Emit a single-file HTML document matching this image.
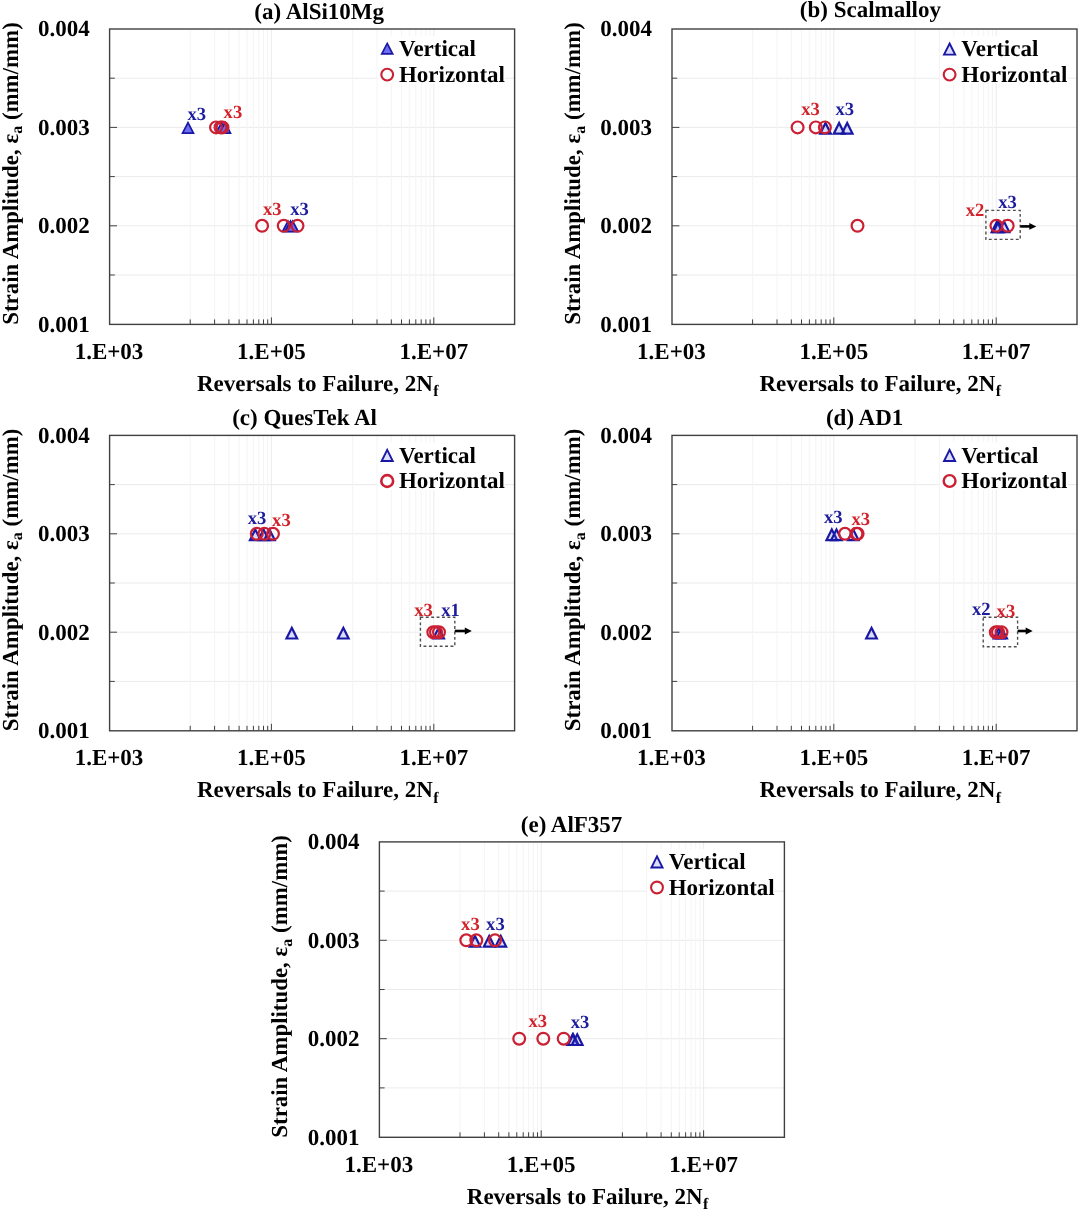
<!DOCTYPE html>
<html><head><meta charset="utf-8"><title>Strain-life data</title>
<style>
html,body{margin:0;padding:0;background:#fff;}
body{width:1080px;height:1211px;overflow:hidden;}
svg{display:block;will-change:transform;text-rendering:geometricPrecision;font-family:"Liberation Serif",serif;font-weight:bold;fill:#000;}
</style></head><body>
<svg width="1080" height="1211" viewBox="0 0 1080 1211">
<rect width="1080" height="1211" fill="#fff"/>
<line x1="109.6" y1="78.2" x2="514.6" y2="78.2" stroke="#ebebeb" stroke-width="1"/>
<line x1="109.6" y1="127.4" x2="514.6" y2="127.4" stroke="#ebebeb" stroke-width="1"/>
<line x1="109.6" y1="176.6" x2="514.6" y2="176.6" stroke="#ebebeb" stroke-width="1"/>
<line x1="109.6" y1="225.8" x2="514.6" y2="225.8" stroke="#ebebeb" stroke-width="1"/>
<line x1="109.6" y1="275.0" x2="514.6" y2="275.0" stroke="#ebebeb" stroke-width="1"/>
<line x1="190.2" y1="29.0" x2="190.2" y2="324.4" stroke="#f4f4f4" stroke-width="1"/>
<line x1="214.6" y1="29.0" x2="214.6" y2="324.4" stroke="#f4f4f4" stroke-width="1"/>
<line x1="228.9" y1="29.0" x2="228.9" y2="324.4" stroke="#f4f4f4" stroke-width="1"/>
<line x1="239.1" y1="29.0" x2="239.1" y2="324.4" stroke="#f4f4f4" stroke-width="1"/>
<line x1="247.0" y1="29.0" x2="247.0" y2="324.4" stroke="#f4f4f4" stroke-width="1"/>
<line x1="253.4" y1="29.0" x2="253.4" y2="324.4" stroke="#f4f4f4" stroke-width="1"/>
<line x1="258.8" y1="29.0" x2="258.8" y2="324.4" stroke="#f4f4f4" stroke-width="1"/>
<line x1="263.5" y1="29.0" x2="263.5" y2="324.4" stroke="#f4f4f4" stroke-width="1"/>
<line x1="267.7" y1="29.0" x2="267.7" y2="324.4" stroke="#f4f4f4" stroke-width="1"/>
<line x1="271.4" y1="29.0" x2="271.4" y2="324.4" stroke="#ebebeb" stroke-width="1"/>
<line x1="352.6" y1="29.0" x2="352.6" y2="324.4" stroke="#f4f4f4" stroke-width="1"/>
<line x1="377.0" y1="29.0" x2="377.0" y2="324.4" stroke="#f4f4f4" stroke-width="1"/>
<line x1="391.3" y1="29.0" x2="391.3" y2="324.4" stroke="#f4f4f4" stroke-width="1"/>
<line x1="401.5" y1="29.0" x2="401.5" y2="324.4" stroke="#f4f4f4" stroke-width="1"/>
<line x1="409.4" y1="29.0" x2="409.4" y2="324.4" stroke="#f4f4f4" stroke-width="1"/>
<line x1="415.8" y1="29.0" x2="415.8" y2="324.4" stroke="#f4f4f4" stroke-width="1"/>
<line x1="421.2" y1="29.0" x2="421.2" y2="324.4" stroke="#f4f4f4" stroke-width="1"/>
<line x1="425.9" y1="29.0" x2="425.9" y2="324.4" stroke="#f4f4f4" stroke-width="1"/>
<line x1="430.1" y1="29.0" x2="430.1" y2="324.4" stroke="#f4f4f4" stroke-width="1"/>
<line x1="433.8" y1="29.0" x2="433.8" y2="324.4" stroke="#ebebeb" stroke-width="1"/>
<line x1="190.2" y1="319.4" x2="190.2" y2="324.4" stroke="#404040" stroke-width="1"/>
<line x1="214.6" y1="319.4" x2="214.6" y2="324.4" stroke="#404040" stroke-width="1"/>
<line x1="228.9" y1="319.4" x2="228.9" y2="324.4" stroke="#404040" stroke-width="1"/>
<line x1="239.1" y1="319.4" x2="239.1" y2="324.4" stroke="#404040" stroke-width="1"/>
<line x1="247.0" y1="319.4" x2="247.0" y2="324.4" stroke="#404040" stroke-width="1"/>
<line x1="253.4" y1="319.4" x2="253.4" y2="324.4" stroke="#404040" stroke-width="1"/>
<line x1="258.8" y1="319.4" x2="258.8" y2="324.4" stroke="#404040" stroke-width="1"/>
<line x1="263.5" y1="319.4" x2="263.5" y2="324.4" stroke="#404040" stroke-width="1"/>
<line x1="267.7" y1="319.4" x2="267.7" y2="324.4" stroke="#404040" stroke-width="1"/>
<line x1="271.4" y1="317.4" x2="271.4" y2="324.4" stroke="#404040" stroke-width="1"/>
<line x1="352.6" y1="319.4" x2="352.6" y2="324.4" stroke="#404040" stroke-width="1"/>
<line x1="377.0" y1="319.4" x2="377.0" y2="324.4" stroke="#404040" stroke-width="1"/>
<line x1="391.3" y1="319.4" x2="391.3" y2="324.4" stroke="#404040" stroke-width="1"/>
<line x1="401.5" y1="319.4" x2="401.5" y2="324.4" stroke="#404040" stroke-width="1"/>
<line x1="409.4" y1="319.4" x2="409.4" y2="324.4" stroke="#404040" stroke-width="1"/>
<line x1="415.8" y1="319.4" x2="415.8" y2="324.4" stroke="#404040" stroke-width="1"/>
<line x1="421.2" y1="319.4" x2="421.2" y2="324.4" stroke="#404040" stroke-width="1"/>
<line x1="425.9" y1="319.4" x2="425.9" y2="324.4" stroke="#404040" stroke-width="1"/>
<line x1="430.1" y1="319.4" x2="430.1" y2="324.4" stroke="#404040" stroke-width="1"/>
<line x1="433.8" y1="317.4" x2="433.8" y2="324.4" stroke="#404040" stroke-width="1"/>
<line x1="109.6" y1="78.2" x2="114.8" y2="78.2" stroke="#404040" stroke-width="1"/>
<line x1="109.6" y1="127.4" x2="117.0" y2="127.4" stroke="#404040" stroke-width="1"/>
<line x1="109.6" y1="176.6" x2="114.8" y2="176.6" stroke="#404040" stroke-width="1"/>
<line x1="109.6" y1="225.8" x2="117.0" y2="225.8" stroke="#404040" stroke-width="1"/>
<line x1="109.6" y1="275.0" x2="114.8" y2="275.0" stroke="#404040" stroke-width="1"/>
<rect x="109.6" y="29.0" width="405.0" height="295.4" fill="none" stroke="#404040" stroke-width="1.4"/>
<text x="89.7" y="36.4" font-size="23" text-anchor="end">0.004</text>
<text x="89.7" y="134.8" font-size="23" text-anchor="end">0.003</text>
<text x="89.7" y="233.2" font-size="23" text-anchor="end">0.002</text>
<text x="89.7" y="331.6" font-size="23" text-anchor="end">0.001</text>
<text x="109.0" y="358.6" font-size="23" text-anchor="middle">1.E+03</text>
<text x="271.4" y="358.6" font-size="23" text-anchor="middle">1.E+05</text>
<text x="433.8" y="358.6" font-size="23" text-anchor="middle">1.E+07</text>
<text x="317.8" y="390.7" font-size="23" text-anchor="middle">Reversals to Failure, 2N<tspan font-size="16" dy="5.4" dx="0.4">f</tspan></text>
<text transform="translate(17.6 173.5) rotate(-90)" font-size="22.9" text-anchor="middle">Strain Amplitude, ε<tspan font-size="16" dy="4.6">a</tspan><tspan dy="-4.6"> (mm/mm)</tspan></text>
<text x="319.2" y="18.9" font-size="23" text-anchor="middle">(a) AlSi10Mg</text>
<rect x="377.6" y="36.0" width="127.5" height="47.5" fill="#fff"/>
<path d="M387.20 43.48L392.65 53.90L381.75 53.90Z" fill="#6e6ef2" stroke="#1818a4" stroke-width="1.7" stroke-linejoin="miter" stroke-miterlimit="10"/>
<circle cx="387.2" cy="74.6" r="5.9" fill="none" stroke="#cb2034" stroke-width="2.1"/>
<text x="398.9" y="56.2" font-size="23">Vertical</text>
<text x="398.9" y="82.0" font-size="23">Horizontal</text>
<path d="M188.00 122.68L193.45 133.10L182.55 133.10Z" fill="#6e6ef2" stroke="#1818a4" stroke-width="1.7" stroke-linejoin="miter" stroke-miterlimit="10"/>
<path d="M221.50 122.68L226.95 133.10L216.05 133.10Z" fill="#6e6ef2" stroke="#1818a4" stroke-width="1.7" stroke-linejoin="miter" stroke-miterlimit="10"/>
<path d="M225.00 122.68L230.45 133.10L219.55 133.10Z" fill="#6e6ef2" stroke="#1818a4" stroke-width="1.7" stroke-linejoin="miter" stroke-miterlimit="10"/>
<path d="M288.00 221.08L293.45 231.50L282.55 231.50Z" fill="#6e6ef2" stroke="#1818a4" stroke-width="1.7" stroke-linejoin="miter" stroke-miterlimit="10"/>
<path d="M290.50 221.08L295.95 231.50L285.05 231.50Z" fill="#6e6ef2" stroke="#1818a4" stroke-width="1.7" stroke-linejoin="miter" stroke-miterlimit="10"/>
<path d="M292.70 221.08L298.15 231.50L287.25 231.50Z" fill="#6e6ef2" stroke="#1818a4" stroke-width="1.7" stroke-linejoin="miter" stroke-miterlimit="10"/>
<circle cx="216.0" cy="127.4" r="5.9" fill="none" stroke="#cb2034" stroke-width="2.2"/>
<circle cx="220.5" cy="127.4" r="5.9" fill="none" stroke="#cb2034" stroke-width="2.2"/>
<circle cx="222.5" cy="127.4" r="5.9" fill="none" stroke="#cb2034" stroke-width="2.2"/>
<circle cx="262.1" cy="225.8" r="5.9" fill="none" stroke="#cb2034" stroke-width="2.2"/>
<circle cx="283.7" cy="225.8" r="5.9" fill="none" stroke="#cb2034" stroke-width="2.2"/>
<circle cx="297.5" cy="225.8" r="5.9" fill="none" stroke="#cb2034" stroke-width="2.2"/>
<text x="196.8" y="120.0" font-size="18.6" fill="#1c1c9c" text-anchor="middle">x3</text>
<text x="232.9" y="117.6" font-size="18.6" fill="#d2232a" text-anchor="middle">x3</text>
<text x="272.2" y="215.0" font-size="18.6" fill="#d2232a" text-anchor="middle">x3</text>
<text x="299.6" y="215.0" font-size="18.6" fill="#1c1c9c" text-anchor="middle">x3</text>
<line x1="672.0" y1="78.2" x2="1077.0" y2="78.2" stroke="#ebebeb" stroke-width="1"/>
<line x1="672.0" y1="127.4" x2="1077.0" y2="127.4" stroke="#ebebeb" stroke-width="1"/>
<line x1="672.0" y1="176.6" x2="1077.0" y2="176.6" stroke="#ebebeb" stroke-width="1"/>
<line x1="672.0" y1="225.8" x2="1077.0" y2="225.8" stroke="#ebebeb" stroke-width="1"/>
<line x1="672.0" y1="275.0" x2="1077.0" y2="275.0" stroke="#ebebeb" stroke-width="1"/>
<line x1="752.6" y1="29.0" x2="752.6" y2="324.4" stroke="#f4f4f4" stroke-width="1"/>
<line x1="777.0" y1="29.0" x2="777.0" y2="324.4" stroke="#f4f4f4" stroke-width="1"/>
<line x1="791.3" y1="29.0" x2="791.3" y2="324.4" stroke="#f4f4f4" stroke-width="1"/>
<line x1="801.5" y1="29.0" x2="801.5" y2="324.4" stroke="#f4f4f4" stroke-width="1"/>
<line x1="809.4" y1="29.0" x2="809.4" y2="324.4" stroke="#f4f4f4" stroke-width="1"/>
<line x1="815.8" y1="29.0" x2="815.8" y2="324.4" stroke="#f4f4f4" stroke-width="1"/>
<line x1="821.2" y1="29.0" x2="821.2" y2="324.4" stroke="#f4f4f4" stroke-width="1"/>
<line x1="825.9" y1="29.0" x2="825.9" y2="324.4" stroke="#f4f4f4" stroke-width="1"/>
<line x1="830.1" y1="29.0" x2="830.1" y2="324.4" stroke="#f4f4f4" stroke-width="1"/>
<line x1="833.8" y1="29.0" x2="833.8" y2="324.4" stroke="#ebebeb" stroke-width="1"/>
<line x1="915.0" y1="29.0" x2="915.0" y2="324.4" stroke="#f4f4f4" stroke-width="1"/>
<line x1="939.4" y1="29.0" x2="939.4" y2="324.4" stroke="#f4f4f4" stroke-width="1"/>
<line x1="953.7" y1="29.0" x2="953.7" y2="324.4" stroke="#f4f4f4" stroke-width="1"/>
<line x1="963.9" y1="29.0" x2="963.9" y2="324.4" stroke="#f4f4f4" stroke-width="1"/>
<line x1="971.8" y1="29.0" x2="971.8" y2="324.4" stroke="#f4f4f4" stroke-width="1"/>
<line x1="978.2" y1="29.0" x2="978.2" y2="324.4" stroke="#f4f4f4" stroke-width="1"/>
<line x1="983.6" y1="29.0" x2="983.6" y2="324.4" stroke="#f4f4f4" stroke-width="1"/>
<line x1="988.3" y1="29.0" x2="988.3" y2="324.4" stroke="#f4f4f4" stroke-width="1"/>
<line x1="992.5" y1="29.0" x2="992.5" y2="324.4" stroke="#f4f4f4" stroke-width="1"/>
<line x1="996.2" y1="29.0" x2="996.2" y2="324.4" stroke="#ebebeb" stroke-width="1"/>
<line x1="752.6" y1="319.4" x2="752.6" y2="324.4" stroke="#404040" stroke-width="1"/>
<line x1="777.0" y1="319.4" x2="777.0" y2="324.4" stroke="#404040" stroke-width="1"/>
<line x1="791.3" y1="319.4" x2="791.3" y2="324.4" stroke="#404040" stroke-width="1"/>
<line x1="801.5" y1="319.4" x2="801.5" y2="324.4" stroke="#404040" stroke-width="1"/>
<line x1="809.4" y1="319.4" x2="809.4" y2="324.4" stroke="#404040" stroke-width="1"/>
<line x1="815.8" y1="319.4" x2="815.8" y2="324.4" stroke="#404040" stroke-width="1"/>
<line x1="821.2" y1="319.4" x2="821.2" y2="324.4" stroke="#404040" stroke-width="1"/>
<line x1="825.9" y1="319.4" x2="825.9" y2="324.4" stroke="#404040" stroke-width="1"/>
<line x1="830.1" y1="319.4" x2="830.1" y2="324.4" stroke="#404040" stroke-width="1"/>
<line x1="833.8" y1="317.4" x2="833.8" y2="324.4" stroke="#404040" stroke-width="1"/>
<line x1="915.0" y1="319.4" x2="915.0" y2="324.4" stroke="#404040" stroke-width="1"/>
<line x1="939.4" y1="319.4" x2="939.4" y2="324.4" stroke="#404040" stroke-width="1"/>
<line x1="953.7" y1="319.4" x2="953.7" y2="324.4" stroke="#404040" stroke-width="1"/>
<line x1="963.9" y1="319.4" x2="963.9" y2="324.4" stroke="#404040" stroke-width="1"/>
<line x1="971.8" y1="319.4" x2="971.8" y2="324.4" stroke="#404040" stroke-width="1"/>
<line x1="978.2" y1="319.4" x2="978.2" y2="324.4" stroke="#404040" stroke-width="1"/>
<line x1="983.6" y1="319.4" x2="983.6" y2="324.4" stroke="#404040" stroke-width="1"/>
<line x1="988.3" y1="319.4" x2="988.3" y2="324.4" stroke="#404040" stroke-width="1"/>
<line x1="992.5" y1="319.4" x2="992.5" y2="324.4" stroke="#404040" stroke-width="1"/>
<line x1="996.2" y1="317.4" x2="996.2" y2="324.4" stroke="#404040" stroke-width="1"/>
<line x1="672.0" y1="78.2" x2="677.2" y2="78.2" stroke="#404040" stroke-width="1"/>
<line x1="672.0" y1="127.4" x2="679.4" y2="127.4" stroke="#404040" stroke-width="1"/>
<line x1="672.0" y1="176.6" x2="677.2" y2="176.6" stroke="#404040" stroke-width="1"/>
<line x1="672.0" y1="225.8" x2="679.4" y2="225.8" stroke="#404040" stroke-width="1"/>
<line x1="672.0" y1="275.0" x2="677.2" y2="275.0" stroke="#404040" stroke-width="1"/>
<rect x="672.0" y="29.0" width="405.0" height="295.4" fill="none" stroke="#404040" stroke-width="1.4"/>
<text x="652.1" y="36.4" font-size="23" text-anchor="end">0.004</text>
<text x="652.1" y="134.8" font-size="23" text-anchor="end">0.003</text>
<text x="652.1" y="233.2" font-size="23" text-anchor="end">0.002</text>
<text x="652.1" y="331.6" font-size="23" text-anchor="end">0.001</text>
<text x="671.4" y="358.6" font-size="23" text-anchor="middle">1.E+03</text>
<text x="833.8" y="358.6" font-size="23" text-anchor="middle">1.E+05</text>
<text x="996.2" y="358.6" font-size="23" text-anchor="middle">1.E+07</text>
<text x="880.2" y="390.7" font-size="23" text-anchor="middle">Reversals to Failure, 2N<tspan font-size="16" dy="5.4" dx="0.4">f</tspan></text>
<text transform="translate(580.0 173.5) rotate(-90)" font-size="22.9" text-anchor="middle">Strain Amplitude, ε<tspan font-size="16" dy="4.6">a</tspan><tspan dy="-4.6"> (mm/mm)</tspan></text>
<text x="870.4" y="17.3" font-size="23" text-anchor="middle">(b) Scalmalloy</text>
<rect x="940.0" y="36.0" width="127.5" height="47.5" fill="#fff"/>
<path d="M949.60 43.52L955.16 54.65L944.04 54.65Z" fill="rgba(80,80,245,0.2)" stroke="#1818a4" stroke-width="1.9" stroke-linejoin="miter" stroke-miterlimit="10"/>
<circle cx="949.6" cy="74.6" r="5.9" fill="none" stroke="#cb2034" stroke-width="2.1"/>
<text x="961.3" y="56.2" font-size="23">Vertical</text>
<text x="961.3" y="82.0" font-size="23">Horizontal</text>
<rect x="985.9" y="210.4" width="34.3" height="29.0" fill="none" stroke="#505050" stroke-width="1.4" stroke-dasharray="2.9 2.5"/>
<line x1="1020.4" y1="226.4" x2="1031.3" y2="226.4" stroke="#000" stroke-width="2.6"/>
<path d="M1036.3 226.4L1029.3 223.0L1029.3 229.8Z" fill="#000"/>
<path d="M825.50 123.06L830.82 133.70L820.18 133.70Z" fill="rgba(80,80,245,0.2)" stroke="#1818a4" stroke-width="2.2" stroke-linejoin="miter" stroke-miterlimit="10"/>
<path d="M839.10 123.06L844.42 133.70L833.78 133.70Z" fill="rgba(80,80,245,0.2)" stroke="#1818a4" stroke-width="2.2" stroke-linejoin="miter" stroke-miterlimit="10"/>
<path d="M847.20 123.06L852.52 133.70L841.88 133.70Z" fill="rgba(80,80,245,0.2)" stroke="#1818a4" stroke-width="2.2" stroke-linejoin="miter" stroke-miterlimit="10"/>
<path d="M997.00 221.46L1002.32 232.10L991.68 232.10Z" fill="rgba(80,80,245,0.2)" stroke="#1818a4" stroke-width="2.2" stroke-linejoin="miter" stroke-miterlimit="10"/>
<path d="M998.60 221.46L1003.92 232.10L993.28 232.10Z" fill="rgba(80,80,245,0.2)" stroke="#1818a4" stroke-width="2.2" stroke-linejoin="miter" stroke-miterlimit="10"/>
<path d="M1004.00 221.46L1009.32 232.10L998.68 232.10Z" fill="rgba(80,80,245,0.2)" stroke="#1818a4" stroke-width="2.2" stroke-linejoin="miter" stroke-miterlimit="10"/>
<circle cx="797.6" cy="127.4" r="5.9" fill="none" stroke="#cb2034" stroke-width="2.2"/>
<circle cx="815.8" cy="127.4" r="5.9" fill="none" stroke="#cb2034" stroke-width="2.2"/>
<circle cx="824.9" cy="127.4" r="5.9" fill="none" stroke="#cb2034" stroke-width="2.2"/>
<circle cx="857.5" cy="225.8" r="5.9" fill="none" stroke="#cb2034" stroke-width="2.2"/>
<circle cx="996.4" cy="225.8" r="5.9" fill="none" stroke="#cb2034" stroke-width="2.2"/>
<circle cx="1007.7" cy="225.8" r="5.9" fill="none" stroke="#cb2034" stroke-width="2.2"/>
<text x="810.6" y="115.3" font-size="18.6" fill="#d2232a" text-anchor="middle">x3</text>
<text x="844.8" y="115.3" font-size="18.6" fill="#1c1c9c" text-anchor="middle">x3</text>
<text x="975.0" y="216.0" font-size="18.6" fill="#d2232a" text-anchor="middle">x2</text>
<text x="1007.5" y="207.9" font-size="18.6" fill="#1c1c9c" text-anchor="middle">x3</text>
<line x1="109.6" y1="484.6" x2="514.6" y2="484.6" stroke="#ebebeb" stroke-width="1"/>
<line x1="109.6" y1="533.8" x2="514.6" y2="533.8" stroke="#ebebeb" stroke-width="1"/>
<line x1="109.6" y1="583.0" x2="514.6" y2="583.0" stroke="#ebebeb" stroke-width="1"/>
<line x1="109.6" y1="632.2" x2="514.6" y2="632.2" stroke="#ebebeb" stroke-width="1"/>
<line x1="109.6" y1="681.4" x2="514.6" y2="681.4" stroke="#ebebeb" stroke-width="1"/>
<line x1="190.2" y1="435.4" x2="190.2" y2="730.8" stroke="#f4f4f4" stroke-width="1"/>
<line x1="214.6" y1="435.4" x2="214.6" y2="730.8" stroke="#f4f4f4" stroke-width="1"/>
<line x1="228.9" y1="435.4" x2="228.9" y2="730.8" stroke="#f4f4f4" stroke-width="1"/>
<line x1="239.1" y1="435.4" x2="239.1" y2="730.8" stroke="#f4f4f4" stroke-width="1"/>
<line x1="247.0" y1="435.4" x2="247.0" y2="730.8" stroke="#f4f4f4" stroke-width="1"/>
<line x1="253.4" y1="435.4" x2="253.4" y2="730.8" stroke="#f4f4f4" stroke-width="1"/>
<line x1="258.8" y1="435.4" x2="258.8" y2="730.8" stroke="#f4f4f4" stroke-width="1"/>
<line x1="263.5" y1="435.4" x2="263.5" y2="730.8" stroke="#f4f4f4" stroke-width="1"/>
<line x1="267.7" y1="435.4" x2="267.7" y2="730.8" stroke="#f4f4f4" stroke-width="1"/>
<line x1="271.4" y1="435.4" x2="271.4" y2="730.8" stroke="#ebebeb" stroke-width="1"/>
<line x1="352.6" y1="435.4" x2="352.6" y2="730.8" stroke="#f4f4f4" stroke-width="1"/>
<line x1="377.0" y1="435.4" x2="377.0" y2="730.8" stroke="#f4f4f4" stroke-width="1"/>
<line x1="391.3" y1="435.4" x2="391.3" y2="730.8" stroke="#f4f4f4" stroke-width="1"/>
<line x1="401.5" y1="435.4" x2="401.5" y2="730.8" stroke="#f4f4f4" stroke-width="1"/>
<line x1="409.4" y1="435.4" x2="409.4" y2="730.8" stroke="#f4f4f4" stroke-width="1"/>
<line x1="415.8" y1="435.4" x2="415.8" y2="730.8" stroke="#f4f4f4" stroke-width="1"/>
<line x1="421.2" y1="435.4" x2="421.2" y2="730.8" stroke="#f4f4f4" stroke-width="1"/>
<line x1="425.9" y1="435.4" x2="425.9" y2="730.8" stroke="#f4f4f4" stroke-width="1"/>
<line x1="430.1" y1="435.4" x2="430.1" y2="730.8" stroke="#f4f4f4" stroke-width="1"/>
<line x1="433.8" y1="435.4" x2="433.8" y2="730.8" stroke="#ebebeb" stroke-width="1"/>
<line x1="190.2" y1="725.8" x2="190.2" y2="730.8" stroke="#404040" stroke-width="1"/>
<line x1="214.6" y1="725.8" x2="214.6" y2="730.8" stroke="#404040" stroke-width="1"/>
<line x1="228.9" y1="725.8" x2="228.9" y2="730.8" stroke="#404040" stroke-width="1"/>
<line x1="239.1" y1="725.8" x2="239.1" y2="730.8" stroke="#404040" stroke-width="1"/>
<line x1="247.0" y1="725.8" x2="247.0" y2="730.8" stroke="#404040" stroke-width="1"/>
<line x1="253.4" y1="725.8" x2="253.4" y2="730.8" stroke="#404040" stroke-width="1"/>
<line x1="258.8" y1="725.8" x2="258.8" y2="730.8" stroke="#404040" stroke-width="1"/>
<line x1="263.5" y1="725.8" x2="263.5" y2="730.8" stroke="#404040" stroke-width="1"/>
<line x1="267.7" y1="725.8" x2="267.7" y2="730.8" stroke="#404040" stroke-width="1"/>
<line x1="271.4" y1="723.8" x2="271.4" y2="730.8" stroke="#404040" stroke-width="1"/>
<line x1="352.6" y1="725.8" x2="352.6" y2="730.8" stroke="#404040" stroke-width="1"/>
<line x1="377.0" y1="725.8" x2="377.0" y2="730.8" stroke="#404040" stroke-width="1"/>
<line x1="391.3" y1="725.8" x2="391.3" y2="730.8" stroke="#404040" stroke-width="1"/>
<line x1="401.5" y1="725.8" x2="401.5" y2="730.8" stroke="#404040" stroke-width="1"/>
<line x1="409.4" y1="725.8" x2="409.4" y2="730.8" stroke="#404040" stroke-width="1"/>
<line x1="415.8" y1="725.8" x2="415.8" y2="730.8" stroke="#404040" stroke-width="1"/>
<line x1="421.2" y1="725.8" x2="421.2" y2="730.8" stroke="#404040" stroke-width="1"/>
<line x1="425.9" y1="725.8" x2="425.9" y2="730.8" stroke="#404040" stroke-width="1"/>
<line x1="430.1" y1="725.8" x2="430.1" y2="730.8" stroke="#404040" stroke-width="1"/>
<line x1="433.8" y1="723.8" x2="433.8" y2="730.8" stroke="#404040" stroke-width="1"/>
<line x1="109.6" y1="484.6" x2="114.8" y2="484.6" stroke="#404040" stroke-width="1"/>
<line x1="109.6" y1="533.8" x2="117.0" y2="533.8" stroke="#404040" stroke-width="1"/>
<line x1="109.6" y1="583.0" x2="114.8" y2="583.0" stroke="#404040" stroke-width="1"/>
<line x1="109.6" y1="632.2" x2="117.0" y2="632.2" stroke="#404040" stroke-width="1"/>
<line x1="109.6" y1="681.4" x2="114.8" y2="681.4" stroke="#404040" stroke-width="1"/>
<rect x="109.6" y="435.4" width="405.0" height="295.4" fill="none" stroke="#404040" stroke-width="1.4"/>
<text x="89.7" y="442.8" font-size="23" text-anchor="end">0.004</text>
<text x="89.7" y="541.2" font-size="23" text-anchor="end">0.003</text>
<text x="89.7" y="639.6" font-size="23" text-anchor="end">0.002</text>
<text x="89.7" y="738.0" font-size="23" text-anchor="end">0.001</text>
<text x="109.0" y="765.0" font-size="23" text-anchor="middle">1.E+03</text>
<text x="271.4" y="765.0" font-size="23" text-anchor="middle">1.E+05</text>
<text x="433.8" y="765.0" font-size="23" text-anchor="middle">1.E+07</text>
<text x="317.8" y="797.1" font-size="23" text-anchor="middle">Reversals to Failure, 2N<tspan font-size="16" dy="5.4" dx="0.4">f</tspan></text>
<text transform="translate(17.6 579.9) rotate(-90)" font-size="22.9" text-anchor="middle">Strain Amplitude, ε<tspan font-size="16" dy="4.6">a</tspan><tspan dy="-4.6"> (mm/mm)</tspan></text>
<text x="304.6" y="424.8" font-size="23" text-anchor="middle">(c) QuesTek Al</text>
<rect x="377.6" y="442.4" width="127.5" height="47.5" fill="#fff"/>
<path d="M387.20 449.92L392.76 461.05L381.64 461.05Z" fill="rgba(80,80,245,0.2)" stroke="#1818a4" stroke-width="1.9" stroke-linejoin="miter" stroke-miterlimit="10"/>
<circle cx="387.2" cy="481.0" r="5.9" fill="none" stroke="#cb2034" stroke-width="2.6"/>
<text x="398.9" y="462.6" font-size="23">Vertical</text>
<text x="398.9" y="488.4" font-size="23">Horizontal</text>
<rect x="420.4" y="617.3" width="34.4" height="29.0" fill="none" stroke="#505050" stroke-width="1.4" stroke-dasharray="2.9 2.5"/>
<line x1="454.8" y1="631.0" x2="466.8" y2="631.0" stroke="#000" stroke-width="2.6"/>
<path d="M471.8 631.0L464.8 627.6L464.8 634.4Z" fill="#000"/>
<path d="M255.30 529.46L260.62 540.10L249.98 540.10Z" fill="rgba(80,80,245,0.2)" stroke="#1818a4" stroke-width="2.2" stroke-linejoin="miter" stroke-miterlimit="10"/>
<path d="M263.50 529.46L268.82 540.10L258.18 540.10Z" fill="rgba(80,80,245,0.2)" stroke="#1818a4" stroke-width="2.2" stroke-linejoin="miter" stroke-miterlimit="10"/>
<path d="M269.50 529.46L274.82 540.10L264.18 540.10Z" fill="rgba(80,80,245,0.2)" stroke="#1818a4" stroke-width="2.2" stroke-linejoin="miter" stroke-miterlimit="10"/>
<path d="M291.80 627.86L297.12 638.50L286.48 638.50Z" fill="rgba(80,80,245,0.2)" stroke="#1818a4" stroke-width="2.2" stroke-linejoin="miter" stroke-miterlimit="10"/>
<path d="M343.30 627.86L348.62 638.50L337.98 638.50Z" fill="rgba(80,80,245,0.2)" stroke="#1818a4" stroke-width="2.2" stroke-linejoin="miter" stroke-miterlimit="10"/>
<path d="M438.60 627.86L443.92 638.50L433.28 638.50Z" fill="rgba(80,80,245,0.2)" stroke="#1818a4" stroke-width="2.2" stroke-linejoin="miter" stroke-miterlimit="10"/>
<circle cx="256.8" cy="533.8" r="5.9" fill="none" stroke="#cb2034" stroke-width="2.2"/>
<circle cx="264.4" cy="533.8" r="5.9" fill="none" stroke="#cb2034" stroke-width="2.2"/>
<circle cx="273.0" cy="533.8" r="5.9" fill="none" stroke="#cb2034" stroke-width="2.2"/>
<circle cx="433.3" cy="632.2" r="5.9" fill="none" stroke="#cb2034" stroke-width="2.2"/>
<circle cx="436.0" cy="632.2" r="5.9" fill="none" stroke="#cb2034" stroke-width="2.2"/>
<circle cx="439.0" cy="632.2" r="5.9" fill="none" stroke="#cb2034" stroke-width="2.2"/>
<text x="257.1" y="524.4" font-size="18.6" fill="#1c1c9c" text-anchor="middle">x3</text>
<text x="281.4" y="525.6" font-size="18.6" fill="#d2232a" text-anchor="middle">x3</text>
<text x="423.6" y="615.5" font-size="18.6" fill="#d2232a" text-anchor="middle">x3</text>
<text x="450.5" y="615.5" font-size="18.6" fill="#1c1c9c" text-anchor="middle">x1</text>
<line x1="672.0" y1="484.6" x2="1077.0" y2="484.6" stroke="#ebebeb" stroke-width="1"/>
<line x1="672.0" y1="533.8" x2="1077.0" y2="533.8" stroke="#ebebeb" stroke-width="1"/>
<line x1="672.0" y1="583.0" x2="1077.0" y2="583.0" stroke="#ebebeb" stroke-width="1"/>
<line x1="672.0" y1="632.2" x2="1077.0" y2="632.2" stroke="#ebebeb" stroke-width="1"/>
<line x1="672.0" y1="681.4" x2="1077.0" y2="681.4" stroke="#ebebeb" stroke-width="1"/>
<line x1="752.6" y1="435.4" x2="752.6" y2="730.8" stroke="#f4f4f4" stroke-width="1"/>
<line x1="777.0" y1="435.4" x2="777.0" y2="730.8" stroke="#f4f4f4" stroke-width="1"/>
<line x1="791.3" y1="435.4" x2="791.3" y2="730.8" stroke="#f4f4f4" stroke-width="1"/>
<line x1="801.5" y1="435.4" x2="801.5" y2="730.8" stroke="#f4f4f4" stroke-width="1"/>
<line x1="809.4" y1="435.4" x2="809.4" y2="730.8" stroke="#f4f4f4" stroke-width="1"/>
<line x1="815.8" y1="435.4" x2="815.8" y2="730.8" stroke="#f4f4f4" stroke-width="1"/>
<line x1="821.2" y1="435.4" x2="821.2" y2="730.8" stroke="#f4f4f4" stroke-width="1"/>
<line x1="825.9" y1="435.4" x2="825.9" y2="730.8" stroke="#f4f4f4" stroke-width="1"/>
<line x1="830.1" y1="435.4" x2="830.1" y2="730.8" stroke="#f4f4f4" stroke-width="1"/>
<line x1="833.8" y1="435.4" x2="833.8" y2="730.8" stroke="#ebebeb" stroke-width="1"/>
<line x1="915.0" y1="435.4" x2="915.0" y2="730.8" stroke="#f4f4f4" stroke-width="1"/>
<line x1="939.4" y1="435.4" x2="939.4" y2="730.8" stroke="#f4f4f4" stroke-width="1"/>
<line x1="953.7" y1="435.4" x2="953.7" y2="730.8" stroke="#f4f4f4" stroke-width="1"/>
<line x1="963.9" y1="435.4" x2="963.9" y2="730.8" stroke="#f4f4f4" stroke-width="1"/>
<line x1="971.8" y1="435.4" x2="971.8" y2="730.8" stroke="#f4f4f4" stroke-width="1"/>
<line x1="978.2" y1="435.4" x2="978.2" y2="730.8" stroke="#f4f4f4" stroke-width="1"/>
<line x1="983.6" y1="435.4" x2="983.6" y2="730.8" stroke="#f4f4f4" stroke-width="1"/>
<line x1="988.3" y1="435.4" x2="988.3" y2="730.8" stroke="#f4f4f4" stroke-width="1"/>
<line x1="992.5" y1="435.4" x2="992.5" y2="730.8" stroke="#f4f4f4" stroke-width="1"/>
<line x1="996.2" y1="435.4" x2="996.2" y2="730.8" stroke="#ebebeb" stroke-width="1"/>
<line x1="752.6" y1="725.8" x2="752.6" y2="730.8" stroke="#404040" stroke-width="1"/>
<line x1="777.0" y1="725.8" x2="777.0" y2="730.8" stroke="#404040" stroke-width="1"/>
<line x1="791.3" y1="725.8" x2="791.3" y2="730.8" stroke="#404040" stroke-width="1"/>
<line x1="801.5" y1="725.8" x2="801.5" y2="730.8" stroke="#404040" stroke-width="1"/>
<line x1="809.4" y1="725.8" x2="809.4" y2="730.8" stroke="#404040" stroke-width="1"/>
<line x1="815.8" y1="725.8" x2="815.8" y2="730.8" stroke="#404040" stroke-width="1"/>
<line x1="821.2" y1="725.8" x2="821.2" y2="730.8" stroke="#404040" stroke-width="1"/>
<line x1="825.9" y1="725.8" x2="825.9" y2="730.8" stroke="#404040" stroke-width="1"/>
<line x1="830.1" y1="725.8" x2="830.1" y2="730.8" stroke="#404040" stroke-width="1"/>
<line x1="833.8" y1="723.8" x2="833.8" y2="730.8" stroke="#404040" stroke-width="1"/>
<line x1="915.0" y1="725.8" x2="915.0" y2="730.8" stroke="#404040" stroke-width="1"/>
<line x1="939.4" y1="725.8" x2="939.4" y2="730.8" stroke="#404040" stroke-width="1"/>
<line x1="953.7" y1="725.8" x2="953.7" y2="730.8" stroke="#404040" stroke-width="1"/>
<line x1="963.9" y1="725.8" x2="963.9" y2="730.8" stroke="#404040" stroke-width="1"/>
<line x1="971.8" y1="725.8" x2="971.8" y2="730.8" stroke="#404040" stroke-width="1"/>
<line x1="978.2" y1="725.8" x2="978.2" y2="730.8" stroke="#404040" stroke-width="1"/>
<line x1="983.6" y1="725.8" x2="983.6" y2="730.8" stroke="#404040" stroke-width="1"/>
<line x1="988.3" y1="725.8" x2="988.3" y2="730.8" stroke="#404040" stroke-width="1"/>
<line x1="992.5" y1="725.8" x2="992.5" y2="730.8" stroke="#404040" stroke-width="1"/>
<line x1="996.2" y1="723.8" x2="996.2" y2="730.8" stroke="#404040" stroke-width="1"/>
<line x1="672.0" y1="484.6" x2="677.2" y2="484.6" stroke="#404040" stroke-width="1"/>
<line x1="672.0" y1="533.8" x2="679.4" y2="533.8" stroke="#404040" stroke-width="1"/>
<line x1="672.0" y1="583.0" x2="677.2" y2="583.0" stroke="#404040" stroke-width="1"/>
<line x1="672.0" y1="632.2" x2="679.4" y2="632.2" stroke="#404040" stroke-width="1"/>
<line x1="672.0" y1="681.4" x2="677.2" y2="681.4" stroke="#404040" stroke-width="1"/>
<rect x="672.0" y="435.4" width="405.0" height="295.4" fill="none" stroke="#404040" stroke-width="1.4"/>
<text x="652.1" y="442.8" font-size="23" text-anchor="end">0.004</text>
<text x="652.1" y="541.2" font-size="23" text-anchor="end">0.003</text>
<text x="652.1" y="639.6" font-size="23" text-anchor="end">0.002</text>
<text x="652.1" y="738.0" font-size="23" text-anchor="end">0.001</text>
<text x="671.4" y="765.0" font-size="23" text-anchor="middle">1.E+03</text>
<text x="833.8" y="765.0" font-size="23" text-anchor="middle">1.E+05</text>
<text x="996.2" y="765.0" font-size="23" text-anchor="middle">1.E+07</text>
<text x="880.2" y="797.1" font-size="23" text-anchor="middle">Reversals to Failure, 2N<tspan font-size="16" dy="5.4" dx="0.4">f</tspan></text>
<text transform="translate(580.0 579.9) rotate(-90)" font-size="22.9" text-anchor="middle">Strain Amplitude, ε<tspan font-size="16" dy="4.6">a</tspan><tspan dy="-4.6"> (mm/mm)</tspan></text>
<text x="864.6" y="425.4" font-size="23" text-anchor="middle">(d) AD1</text>
<rect x="940.0" y="442.4" width="127.5" height="47.5" fill="#fff"/>
<path d="M949.60 449.92L955.16 461.05L944.04 461.05Z" fill="rgba(80,80,245,0.2)" stroke="#1818a4" stroke-width="1.9" stroke-linejoin="miter" stroke-miterlimit="10"/>
<circle cx="949.6" cy="481.0" r="5.9" fill="none" stroke="#cb2034" stroke-width="2.4"/>
<text x="961.3" y="462.6" font-size="23">Vertical</text>
<text x="961.3" y="488.4" font-size="23">Horizontal</text>
<rect x="983.2" y="617.2" width="34.4" height="29.5" fill="none" stroke="#505050" stroke-width="1.4" stroke-dasharray="2.9 2.5"/>
<line x1="1017.6" y1="631.0" x2="1027.7" y2="631.0" stroke="#000" stroke-width="2.6"/>
<path d="M1032.7 631.0L1025.7 627.6L1025.7 634.4Z" fill="#000"/>
<path d="M831.80 529.46L837.12 540.10L826.48 540.10Z" fill="rgba(80,80,245,0.2)" stroke="#1818a4" stroke-width="2.2" stroke-linejoin="miter" stroke-miterlimit="10"/>
<path d="M836.50 529.46L841.82 540.10L831.18 540.10Z" fill="rgba(80,80,245,0.2)" stroke="#1818a4" stroke-width="2.2" stroke-linejoin="miter" stroke-miterlimit="10"/>
<path d="M853.20 529.46L858.52 540.10L847.88 540.10Z" fill="rgba(80,80,245,0.2)" stroke="#1818a4" stroke-width="2.2" stroke-linejoin="miter" stroke-miterlimit="10"/>
<path d="M871.50 627.86L876.82 638.50L866.18 638.50Z" fill="rgba(80,80,245,0.2)" stroke="#1818a4" stroke-width="2.2" stroke-linejoin="miter" stroke-miterlimit="10"/>
<path d="M999.00 627.86L1004.32 638.50L993.68 638.50Z" fill="rgba(80,80,245,0.2)" stroke="#1818a4" stroke-width="2.2" stroke-linejoin="miter" stroke-miterlimit="10"/>
<path d="M1001.60 627.86L1006.92 638.50L996.28 638.50Z" fill="rgba(80,80,245,0.2)" stroke="#1818a4" stroke-width="2.2" stroke-linejoin="miter" stroke-miterlimit="10"/>
<circle cx="845.0" cy="533.8" r="5.9" fill="none" stroke="#cb2034" stroke-width="2.2"/>
<circle cx="856.5" cy="533.8" r="5.9" fill="none" stroke="#cb2034" stroke-width="2.2"/>
<circle cx="857.6" cy="533.8" r="5.9" fill="none" stroke="#cb2034" stroke-width="2.2"/>
<circle cx="995.8" cy="632.2" r="5.9" fill="none" stroke="#cb2034" stroke-width="2.2"/>
<circle cx="998.0" cy="632.2" r="5.9" fill="none" stroke="#cb2034" stroke-width="2.2"/>
<circle cx="1001.5" cy="632.2" r="5.9" fill="none" stroke="#cb2034" stroke-width="2.2"/>
<text x="833.2" y="523.2" font-size="18.6" fill="#1c1c9c" text-anchor="middle">x3</text>
<text x="860.8" y="524.6" font-size="18.6" fill="#d2232a" text-anchor="middle">x3</text>
<text x="981.3" y="615.3" font-size="18.6" fill="#1c1c9c" text-anchor="middle">x2</text>
<text x="1005.9" y="616.8" font-size="18.6" fill="#d2232a" text-anchor="middle">x3</text>
<line x1="379.4" y1="891.1" x2="784.4" y2="891.1" stroke="#ebebeb" stroke-width="1"/>
<line x1="379.4" y1="940.3" x2="784.4" y2="940.3" stroke="#ebebeb" stroke-width="1"/>
<line x1="379.4" y1="989.5" x2="784.4" y2="989.5" stroke="#ebebeb" stroke-width="1"/>
<line x1="379.4" y1="1038.7" x2="784.4" y2="1038.7" stroke="#ebebeb" stroke-width="1"/>
<line x1="379.4" y1="1087.9" x2="784.4" y2="1087.9" stroke="#ebebeb" stroke-width="1"/>
<line x1="460.0" y1="841.9" x2="460.0" y2="1137.3" stroke="#f4f4f4" stroke-width="1"/>
<line x1="484.4" y1="841.9" x2="484.4" y2="1137.3" stroke="#f4f4f4" stroke-width="1"/>
<line x1="498.7" y1="841.9" x2="498.7" y2="1137.3" stroke="#f4f4f4" stroke-width="1"/>
<line x1="508.9" y1="841.9" x2="508.9" y2="1137.3" stroke="#f4f4f4" stroke-width="1"/>
<line x1="516.8" y1="841.9" x2="516.8" y2="1137.3" stroke="#f4f4f4" stroke-width="1"/>
<line x1="523.2" y1="841.9" x2="523.2" y2="1137.3" stroke="#f4f4f4" stroke-width="1"/>
<line x1="528.6" y1="841.9" x2="528.6" y2="1137.3" stroke="#f4f4f4" stroke-width="1"/>
<line x1="533.3" y1="841.9" x2="533.3" y2="1137.3" stroke="#f4f4f4" stroke-width="1"/>
<line x1="537.5" y1="841.9" x2="537.5" y2="1137.3" stroke="#f4f4f4" stroke-width="1"/>
<line x1="541.2" y1="841.9" x2="541.2" y2="1137.3" stroke="#ebebeb" stroke-width="1"/>
<line x1="622.4" y1="841.9" x2="622.4" y2="1137.3" stroke="#f4f4f4" stroke-width="1"/>
<line x1="646.8" y1="841.9" x2="646.8" y2="1137.3" stroke="#f4f4f4" stroke-width="1"/>
<line x1="661.1" y1="841.9" x2="661.1" y2="1137.3" stroke="#f4f4f4" stroke-width="1"/>
<line x1="671.3" y1="841.9" x2="671.3" y2="1137.3" stroke="#f4f4f4" stroke-width="1"/>
<line x1="679.2" y1="841.9" x2="679.2" y2="1137.3" stroke="#f4f4f4" stroke-width="1"/>
<line x1="685.6" y1="841.9" x2="685.6" y2="1137.3" stroke="#f4f4f4" stroke-width="1"/>
<line x1="691.0" y1="841.9" x2="691.0" y2="1137.3" stroke="#f4f4f4" stroke-width="1"/>
<line x1="695.7" y1="841.9" x2="695.7" y2="1137.3" stroke="#f4f4f4" stroke-width="1"/>
<line x1="699.9" y1="841.9" x2="699.9" y2="1137.3" stroke="#f4f4f4" stroke-width="1"/>
<line x1="703.6" y1="841.9" x2="703.6" y2="1137.3" stroke="#ebebeb" stroke-width="1"/>
<line x1="460.0" y1="1132.3" x2="460.0" y2="1137.3" stroke="#404040" stroke-width="1"/>
<line x1="484.4" y1="1132.3" x2="484.4" y2="1137.3" stroke="#404040" stroke-width="1"/>
<line x1="498.7" y1="1132.3" x2="498.7" y2="1137.3" stroke="#404040" stroke-width="1"/>
<line x1="508.9" y1="1132.3" x2="508.9" y2="1137.3" stroke="#404040" stroke-width="1"/>
<line x1="516.8" y1="1132.3" x2="516.8" y2="1137.3" stroke="#404040" stroke-width="1"/>
<line x1="523.2" y1="1132.3" x2="523.2" y2="1137.3" stroke="#404040" stroke-width="1"/>
<line x1="528.6" y1="1132.3" x2="528.6" y2="1137.3" stroke="#404040" stroke-width="1"/>
<line x1="533.3" y1="1132.3" x2="533.3" y2="1137.3" stroke="#404040" stroke-width="1"/>
<line x1="537.5" y1="1132.3" x2="537.5" y2="1137.3" stroke="#404040" stroke-width="1"/>
<line x1="541.2" y1="1130.3" x2="541.2" y2="1137.3" stroke="#404040" stroke-width="1"/>
<line x1="622.4" y1="1132.3" x2="622.4" y2="1137.3" stroke="#404040" stroke-width="1"/>
<line x1="646.8" y1="1132.3" x2="646.8" y2="1137.3" stroke="#404040" stroke-width="1"/>
<line x1="661.1" y1="1132.3" x2="661.1" y2="1137.3" stroke="#404040" stroke-width="1"/>
<line x1="671.3" y1="1132.3" x2="671.3" y2="1137.3" stroke="#404040" stroke-width="1"/>
<line x1="679.2" y1="1132.3" x2="679.2" y2="1137.3" stroke="#404040" stroke-width="1"/>
<line x1="685.6" y1="1132.3" x2="685.6" y2="1137.3" stroke="#404040" stroke-width="1"/>
<line x1="691.0" y1="1132.3" x2="691.0" y2="1137.3" stroke="#404040" stroke-width="1"/>
<line x1="695.7" y1="1132.3" x2="695.7" y2="1137.3" stroke="#404040" stroke-width="1"/>
<line x1="699.9" y1="1132.3" x2="699.9" y2="1137.3" stroke="#404040" stroke-width="1"/>
<line x1="703.6" y1="1130.3" x2="703.6" y2="1137.3" stroke="#404040" stroke-width="1"/>
<line x1="379.4" y1="891.1" x2="384.59999999999997" y2="891.1" stroke="#404040" stroke-width="1"/>
<line x1="379.4" y1="940.3" x2="386.79999999999995" y2="940.3" stroke="#404040" stroke-width="1"/>
<line x1="379.4" y1="989.5" x2="384.59999999999997" y2="989.5" stroke="#404040" stroke-width="1"/>
<line x1="379.4" y1="1038.7" x2="386.79999999999995" y2="1038.7" stroke="#404040" stroke-width="1"/>
<line x1="379.4" y1="1087.9" x2="384.59999999999997" y2="1087.9" stroke="#404040" stroke-width="1"/>
<rect x="379.4" y="841.9" width="405.0" height="295.4" fill="none" stroke="#404040" stroke-width="1.4"/>
<text x="359.5" y="849.3" font-size="23" text-anchor="end">0.004</text>
<text x="359.5" y="947.7" font-size="23" text-anchor="end">0.003</text>
<text x="359.5" y="1046.1" font-size="23" text-anchor="end">0.002</text>
<text x="359.5" y="1144.5" font-size="23" text-anchor="end">0.001</text>
<text x="378.8" y="1171.5" font-size="23" text-anchor="middle">1.E+03</text>
<text x="541.2" y="1171.5" font-size="23" text-anchor="middle">1.E+05</text>
<text x="703.6" y="1171.5" font-size="23" text-anchor="middle">1.E+07</text>
<text x="587.6" y="1203.6" font-size="23" text-anchor="middle">Reversals to Failure, 2N<tspan font-size="16" dy="5.4" dx="0.4">f</tspan></text>
<text transform="translate(287.4 986.4) rotate(-90)" font-size="22.9" text-anchor="middle">Strain Amplitude, ε<tspan font-size="16" dy="4.6">a</tspan><tspan dy="-4.6"> (mm/mm)</tspan></text>
<text x="571.6" y="832.2" font-size="23" text-anchor="middle">(e) AlF357</text>
<rect x="647.4" y="848.9" width="127.5" height="47.5" fill="#fff"/>
<path d="M657.00 856.42L662.56 867.55L651.44 867.55Z" fill="rgba(80,80,245,0.2)" stroke="#1818a4" stroke-width="1.9" stroke-linejoin="miter" stroke-miterlimit="10"/>
<circle cx="657.0" cy="887.5" r="5.9" fill="none" stroke="#cb2034" stroke-width="2.1"/>
<text x="668.7" y="869.1" font-size="23">Vertical</text>
<text x="668.7" y="894.9" font-size="23">Horizontal</text>
<path d="M475.00 935.96L480.32 946.60L469.68 946.60Z" fill="rgba(80,80,245,0.2)" stroke="#1818a4" stroke-width="2.2" stroke-linejoin="miter" stroke-miterlimit="10"/>
<path d="M489.20 935.96L494.52 946.60L483.88 946.60Z" fill="rgba(80,80,245,0.2)" stroke="#1818a4" stroke-width="2.2" stroke-linejoin="miter" stroke-miterlimit="10"/>
<path d="M500.80 935.96L506.12 946.60L495.48 946.60Z" fill="rgba(80,80,245,0.2)" stroke="#1818a4" stroke-width="2.2" stroke-linejoin="miter" stroke-miterlimit="10"/>
<path d="M572.60 1034.36L577.92 1045.00L567.28 1045.00Z" fill="rgba(80,80,245,0.2)" stroke="#1818a4" stroke-width="2.2" stroke-linejoin="miter" stroke-miterlimit="10"/>
<path d="M573.20 1034.36L578.52 1045.00L567.88 1045.00Z" fill="rgba(80,80,245,0.2)" stroke="#1818a4" stroke-width="2.2" stroke-linejoin="miter" stroke-miterlimit="10"/>
<path d="M577.20 1034.36L582.52 1045.00L571.88 1045.00Z" fill="rgba(80,80,245,0.2)" stroke="#1818a4" stroke-width="2.2" stroke-linejoin="miter" stroke-miterlimit="10"/>
<circle cx="466.3" cy="940.3" r="5.9" fill="none" stroke="#cb2034" stroke-width="2.2"/>
<circle cx="476.3" cy="940.3" r="5.9" fill="none" stroke="#cb2034" stroke-width="2.2"/>
<circle cx="495.0" cy="940.3" r="5.9" fill="none" stroke="#cb2034" stroke-width="2.2"/>
<circle cx="519.2" cy="1038.7" r="5.9" fill="none" stroke="#cb2034" stroke-width="2.2"/>
<circle cx="543.3" cy="1038.7" r="5.9" fill="none" stroke="#cb2034" stroke-width="2.2"/>
<circle cx="563.7" cy="1038.7" r="5.9" fill="none" stroke="#cb2034" stroke-width="2.2"/>
<text x="470.4" y="929.7" font-size="18.6" fill="#d2232a" text-anchor="middle">x3</text>
<text x="495.4" y="929.7" font-size="18.6" fill="#1c1c9c" text-anchor="middle">x3</text>
<text x="537.8" y="1026.7" font-size="18.6" fill="#d2232a" text-anchor="middle">x3</text>
<text x="580.0" y="1027.5" font-size="18.6" fill="#1c1c9c" text-anchor="middle">x3</text>
</svg>
</body></html>
